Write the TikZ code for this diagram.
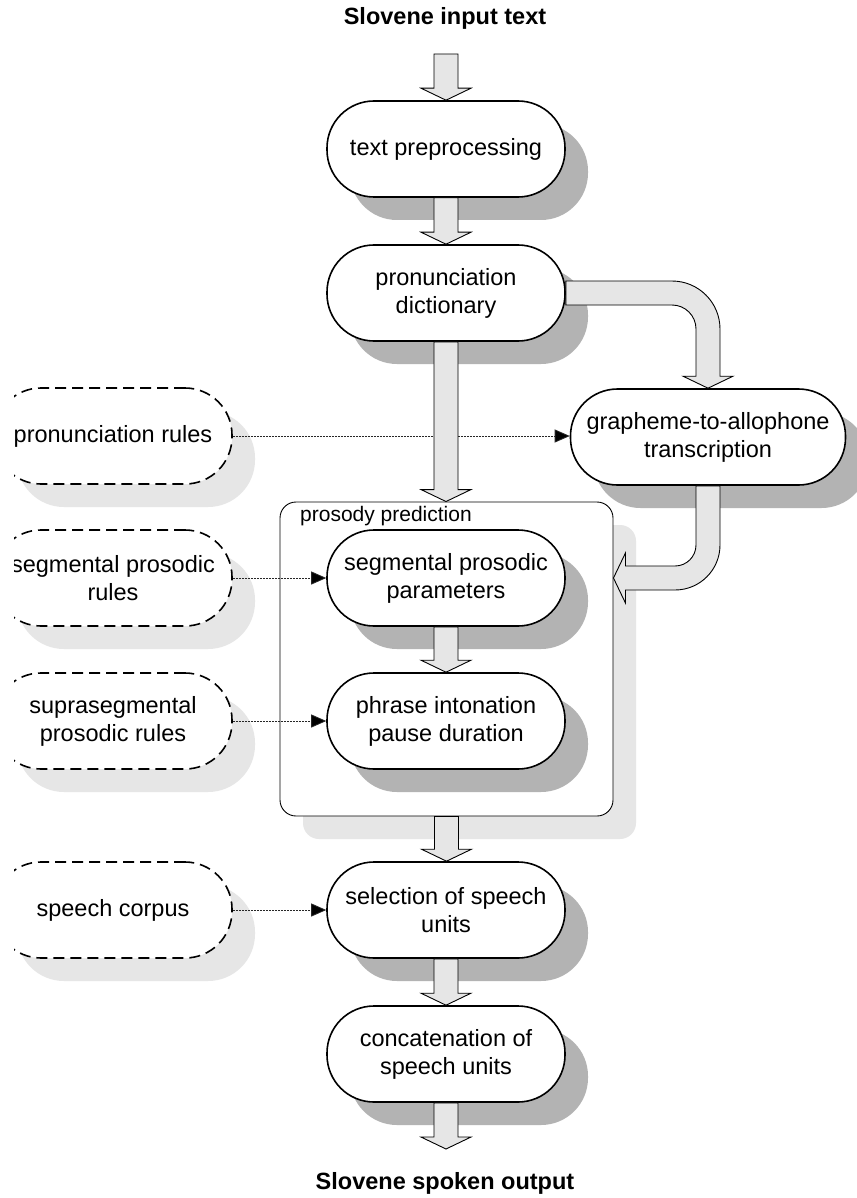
\documentclass[tikz,border=0pt]{standalone}
\usepackage{fontspec}
\setmainfont{Liberation Sans}
\usetikzlibrary{shadows,calc,arrows.meta}
\definecolor{shdark}{HTML}{B3B3B3}
\definecolor{shlight}{HTML}{E6E6E6}
\definecolor{arrfill}{HTML}{E6E6E6}
\newcommand\nodefnt{\fontsize{23.5}{28}\selectfont}
\newcommand\smallfnt{\fontsize{21}{25}\selectfont}
\newcommand\fatdown[2]{\draw[fatarrow] let \p1=(#1), \p2=(#2) in
  (\x1-12pt,\y1) -- (\x1-12pt,\y2+12pt) -- (\x1-25pt,\y2+12pt) -- (\x1,\y2)
  -- (\x1+25pt,\y2+12pt) -- (\x1+12pt,\y2+12pt) -- (\x1+12pt,\y1) -- cycle;}
\tikzset{
  darkshadow/.style={drop shadow={shadow xshift=23pt,shadow yshift=-23pt,fill=shdark,opacity=1}},
  lightshadow/.style={drop shadow={shadow xshift=23pt,shadow yshift=-23pt,fill=shlight,opacity=1}},
  proc/.style={draw, line width=1.6pt, fill=white, rounded corners=47pt,
    minimum width=238pt, minimum height=96pt, inner sep=2pt, align=center,
    font=\nodefnt, darkshadow},
  ext/.style={draw, line width=1.6pt, dash pattern=on 11pt off 6pt, fill=white,
    rounded corners=47pt, minimum width=238pt, minimum height=96pt, inner sep=2pt,
    align=center, font=\nodefnt, lightshadow},
  group/.style={draw, line width=0.9pt, fill=white, rounded corners=16pt,
    minimum width=333pt, minimum height=314pt, inner sep=0pt, lightshadow},
  fatarrow/.style={draw, line width=0.9pt, fill=arrfill, line join=miter},
  conn/.style={line width=0.8pt, black!85, dash pattern=on 1pt off 0.5pt,
    -{Triangle[length=15pt,width=13pt,fill=black]}},
  title/.style={font=\bfseries\nodefnt, anchor=base, inner sep=0pt},
}
\begin{document}
\begin{tikzpicture}[x=1pt,y=1pt]
\useasboundingbox (0,0) rectangle (856,-1198);
\fill[white] (0,0) rectangle (856,-1198);

% titles
\node[title] (intext) at (445,-25) {Slovene input text};
\node[title] (outtext) at (445,-1189) {Slovene spoken output};
\coordinate (topstart) at (446,-54);
\coordinate (botend) at (446,-1149);

% prosody group box
\node[group] (pros) at (446.5,-659) {};
\node[font=\smallfnt, anchor=base west, inner sep=0pt] (plabel) at (300,-521) {prosody prediction};

% main nodes
\node[proc] (tp) at (446,-149) {text preprocessing};
\node[proc] (pd) at (446,-293) {pronunciation\\dictionary};
\node[proc, minimum width=275pt] (graph) at (708,-437) {grapheme-to-allophone\\transcription};
\node[proc] (seg) at (446,-578) {segmental prosodic\\parameters};
\node[proc] (phr) at (446,-721) {phrase intonation\\pause duration};
\node[proc] (sel) at (446,-910) {selection of speech\\units};
\node[proc] (cat) at (446,-1054) {concatenation of\\speech units};

% external (dashed) nodes, clipped at the left
\begin{scope}
\clip (14,0) rectangle (856,-1198);
\node[ext] (prules) at (113,-436) {pronunciation rules};
\node[ext] (srules) at (113,-578) {segmental prosodic\\rules};
\node[ext] (ssrules) at (113,-721) {suprasegmental\\prosodic rules};
\node[ext] (corpus) at (113,-910) {speech corpus};
\end{scope}

% thin connectors
\draw[conn] (prules.east) -- (prules.east -| graph.west);
\draw[conn] (srules.east) -- (srules.east -| seg.west);
\draw[conn] (ssrules.east) -- (ssrules.east -| phr.west);
\draw[conn] (corpus.east) -- (corpus.east -| sel.west);

% fat arrows
\fatdown{topstart}{tp.north}
\fatdown{tp.south}{pd.north}
\fatdown{pd.south}{pros.north}
\fatdown{seg.south}{phr.north}
\fatdown{pros.south}{sel.north}
\fatdown{sel.south}{cat.north}
\fatdown{cat.south}{botend}

% curved arrow: dictionary -> grapheme
\draw[fatarrow] let \p1=(pd.east), \p2=(graph.north) in
  (\x1,\y1+12pt) -- (672,\y1+12pt) arc[start angle=90,end angle=0,radius=48pt]
  -- (\x2+12pt,\y2+12pt) -- (\x2+25pt,\y2+12pt) -- (\x2,\y2) -- (\x2-25pt,\y2+12pt)
  -- (\x2-12pt,\y2+12pt) -- (\x2-12pt,\y1-36pt) arc[start angle=0,end angle=90,radius=24pt]
  -- (\x1,\y1-12pt) -- cycle;

% curved arrow: grapheme -> prosody box
\draw[fatarrow] let \p1=(graph.south), \p2=(seg.center), \p3=(pros.east) in
  (\x1+12pt,\y1) -- (\x1+12pt,-545) arc[start angle=0,end angle=-90,radius=45pt]
  -- (\x3+12pt,\y2-12pt) -- (\x3+12pt,\y2-25pt) -- (\x3,\y2) -- (\x3+12pt,\y2+25pt)
  -- (\x3+12pt,\y2+12pt) -- (675,\y2+12pt) arc[start angle=-90,end angle=0,radius=21pt]
  -- (\x1-12pt,\y1) -- cycle;
\end{tikzpicture}
\end{document}
